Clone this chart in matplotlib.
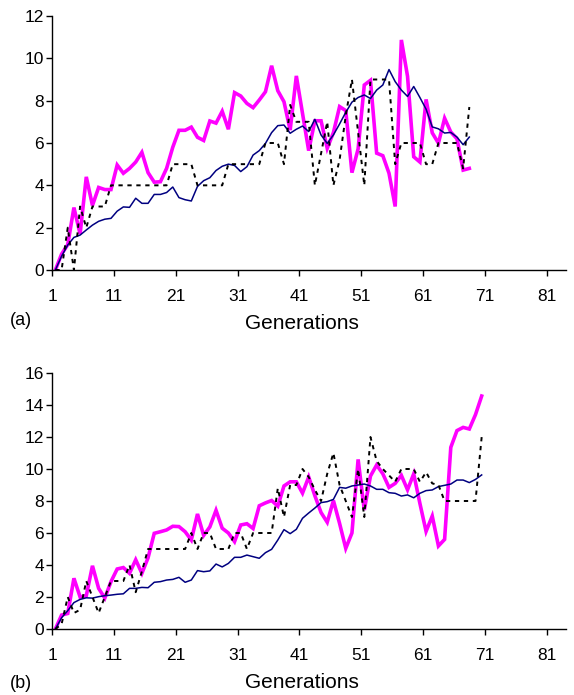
import numpy as np
import matplotlib
matplotlib.use("Agg")
import matplotlib.pyplot as plt

plt.rcParams['font.family'] = ['Liberation Sans', 'DejaVu Sans']

# ---- panel (a) series (one value per generation) ----
a_best = [0, 0.75, 1.2, 2.95, 1.7, 4.4, 3.05, 3.9, 3.8, 3.8,
          4.96, 4.57, 4.8, 5.1, 5.56, 4.6, 4.15, 4.17, 4.8, 5.8,
          6.6, 6.6, 6.75, 6.27, 6.12, 7.04, 6.94, 7.5, 6.65, 8.38,
          8.22, 7.87, 7.67, 8.03, 8.42, 9.65, 8.47, 7.95, 6.61, 9.17,
          7.4, 5.64, 7.05, 7.05, 5.75, 6.49, 7.72, 7.53, 4.6, 5.72,
          8.74, 8.96, 5.52, 5.4, 4.57, 3.0, 10.87, 9.15, 5.35, 5.1,
          8.06, 6.48, 5.99, 7.17, 6.52, 6.2, 4.72, 4.8]
a_mean = [0, 0.65, 1.18, 1.54, 1.65, 1.89, 2.12, 2.3, 2.4, 2.44,
          2.78, 2.98, 2.96, 3.39, 3.15, 3.15, 3.57, 3.57, 3.66, 3.92,
          3.42, 3.32, 3.26, 3.95, 4.22, 4.36, 4.7, 4.9, 5.0, 4.94,
          4.65, 4.88, 5.43, 5.64, 5.98, 6.49, 6.82, 6.85, 6.46, 6.65,
          6.8, 6.54, 7.12, 6.38, 5.98, 6.38, 6.9, 7.45, 7.93, 8.15,
          8.27, 8.1, 8.5, 8.74, 9.47, 8.9, 8.5, 8.2, 8.67, 8.15,
          7.6, 6.76, 6.67, 6.47, 6.5, 6.28, 5.92, 6.28]
a_median = [0, 0, 2, 0, 3, 2, 3, 3, 3, 4,
            4, 4, 4, 4, 4, 4, 4, 4, 4, 5,
            5, 5, 5, 4, 4, 4, 4, 4, 5, 5,
            5, 5, 5, 5, 6, 6, 6, 5, 7.8, 7,
            7, 7, 4, 5.5, 7, 4, 5.2, 7.3, 9, 6.5,
            4, 9, 9, 9, 9, 5, 6, 6, 6, 6,
            5, 5, 6, 6, 6, 6, 4.8, 7.7]

# ---- panel (b) series ----
b_best = [0, 0.87, 0.97, 3.17, 2.0, 2.08, 3.95, 2.54, 1.93, 2.96,
          3.75, 3.84, 3.48, 4.33, 3.48, 4.45, 5.98, 6.08, 6.19, 6.42,
          6.4, 6.08, 5.56, 7.19, 5.85, 6.38, 7.42, 6.3, 6.0, 5.46,
          6.5, 6.58, 6.28, 7.7, 7.88, 8.03, 7.68, 8.94, 9.2, 9.2,
          8.49, 9.5, 8.33, 7.28, 6.67, 8.03, 6.6, 5.04, 6.0, 10.6,
          7.44, 9.56, 10.25, 9.7, 8.85, 9.1, 9.6, 8.7, 9.7, 7.85,
          6.1, 7.06, 5.19, 5.6, 11.35, 12.4, 12.6, 12.5, 13.4, 14.56]
b_mean = [0, 0.7, 1.15, 1.65, 1.85, 1.95, 1.93, 2.02, 2.08, 2.12,
          2.17, 2.2, 2.54, 2.54, 2.6, 2.58, 2.92, 2.96, 3.06, 3.1,
          3.23, 2.92, 3.06, 3.65, 3.58, 3.63, 4.06, 3.88, 4.1, 4.48,
          4.48, 4.62, 4.52, 4.42, 4.77, 4.98, 5.56, 6.21, 5.96, 6.23,
          6.92, 7.25, 7.56, 7.9, 7.96, 8.1, 8.85, 8.8, 8.94, 9.0,
          9.06, 8.94, 8.73, 8.73, 8.52, 8.48, 8.31, 8.38, 8.2, 8.48,
          8.65, 8.69, 8.9, 8.98, 9.06, 9.31, 9.31, 9.15, 9.35, 9.63]
b_median = [0, 0.3, 2, 1, 1.2, 3, 2, 1, 2, 3,
            3, 3, 4, 2.3, 3.6, 5, 5, 5, 5, 5,
            5, 5, 6, 5, 6, 6, 5, 5, 5, 6,
            6, 5, 6, 6, 6, 6, 8.8, 7, 9, 9,
            10, 9.5, 8.7, 8, 9.7, 11, 9, 8, 7, 10,
            7, 12, 10.5, 10, 9.6, 9.2, 10, 10, 10, 9.2,
            9.8, 9.1, 9, 8, 8, 8, 8, 8, 8, 12]

tick_labels = ['1', '11', '21', '31', '41', '51', '61', '71', '81']
a_yticks = [0, 2, 4, 6, 8, 10, 12]
b_yticks = [0, 2, 4, 6, 8, 10, 12, 14, 16]

W, H = 574, 695
fig = plt.figure(figsize=(W / 100, H / 100), dpi=100)
fig.patch.set_facecolor('white')

MAGENTA = '#FF00FF'
NAVY = '#000080'


def panel(rect, best, mean, median, yticks, tag, tag_y):
    ax = fig.add_axes(rect)
    gens = np.arange(1, len(best) + 1)
    ax.plot(gens, best, color=MAGENTA, lw=2.6, solid_joinstyle='miter', zorder=2)
    ax.plot(gens, mean, color=NAVY, lw=1.1, zorder=3)
    ax.plot(gens, median, color='black', lw=1.4,
            linestyle=(0, (2.2, 2.4)), zorder=4)
    ax.set_xlim(0.5, 83.6)
    ax.set_ylim(yticks[0], yticks[-1])
    ax.set_xticks(np.arange(len(tick_labels)) * 10 + 0.5)
    ax.set_xticklabels(tick_labels)
    ax.set_yticks(yticks)
    for s in ('top', 'right'):
        ax.spines[s].set_visible(False)
    for s in ('left', 'bottom'):
        ax.spines[s].set_linewidth(1.0)
        ax.spines[s].set_color('black')
    ax.tick_params(axis='both', direction='out', length=4, width=1.0,
                   labelsize=12.5, colors='black')
    ax.tick_params(axis='x', pad=10)
    ax.tick_params(axis='y', pad=2)
    ax.set_facecolor('white')
    ax.set_xlabel('Generations', fontsize=15)
    # title sits about 44 px below the category axis
    ax.xaxis.set_label_coords(0.486, -44 / (rect[3] * H))
    fig.text(10 / W, 1 - tag_y / H, tag, fontsize=13, ha='left', va='center')
    return ax


panel([52.3 / W, 1 - 270 / H, (565.7 - 52.3) / W, 254 / H],
      a_best, a_mean, a_median, a_yticks, '(a)', 321)
panel([52.3 / W, 1 - 629 / H, (565.7 - 52.3) / W, 256 / H],
      b_best, b_mean, b_median, b_yticks, '(b)', 683)

fig.savefig('out.png', dpi=100, facecolor='white')
